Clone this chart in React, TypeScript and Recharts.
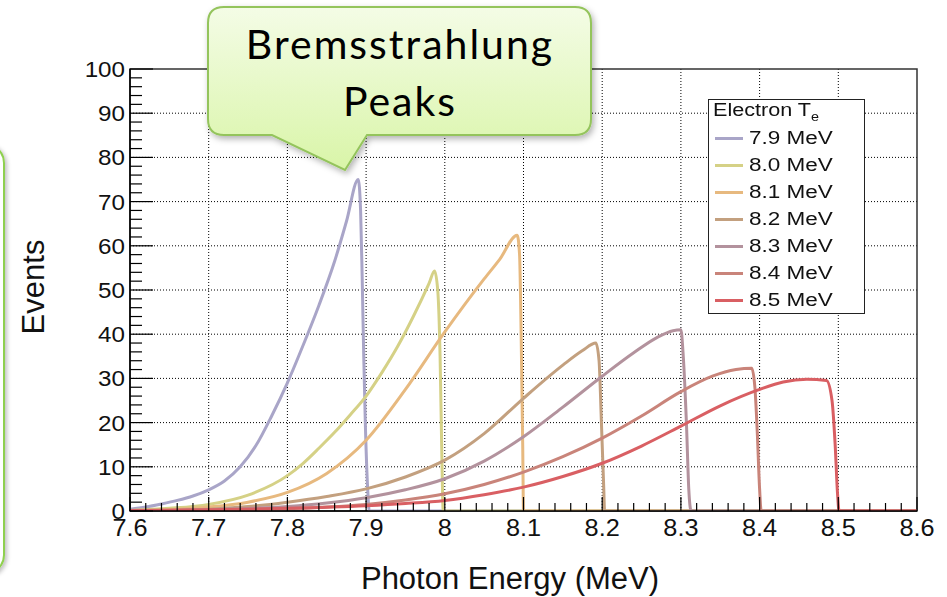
import { CartesianGrid, Line, LineChart, ReferenceArea, XAxis, YAxis } from "recharts";

// photon energy (MeV) vs events, one curve per electron energy
const te79 = [
  [7.6, 0.4], [7.62, 0.9], [7.64, 1.6], [7.66, 2.4], [7.68, 3.4], [7.7, 4.8], [7.72, 6.8],
  [7.74, 10], [7.76, 14.8], [7.78, 21.5], [7.8, 29], [7.82, 37.5], [7.84, 46.5], [7.86, 56.5],
  [7.875, 65.5], [7.89, 75], [7.893, 68], [7.895, 53], [7.897, 35], [7.899, 20], [7.902, 5],
  [7.904, 0], [8.6, 0],
];
const te80 = [
  [7.6, 0.1], [7.65, 0.6], [7.7, 1.5], [7.75, 3.6], [7.8, 8], [7.82, 10.8], [7.84, 14.2],
  [7.86, 17.8], [7.88, 21.8], [7.9, 26], [7.92, 31.3], [7.94, 37.2], [7.96, 44], [7.98, 51.5],
  [7.987, 54.3], [7.991, 50], [7.994, 35], [7.996, 15], [7.998, 0], [8.6, 0],
];
const te81 = [
  [7.6, 0], [7.65, 0.3], [7.7, 0.9], [7.75, 2], [7.8, 4.2], [7.85, 8.5], [7.9, 16],
  [7.95, 27.5], [8.0, 40.5], [8.05, 52.5], [8.07, 57], [8.092, 62.4],
  [8.095, 58], [8.097, 40], [8.099, 15], [8.1, 0], [8.6, 0],
];
const te82 = [
  [7.6, 0], [7.7, 0.4], [7.75, 1], [7.8, 2], [7.85, 3.3], [7.9, 5], [7.95, 7.7], [8.0, 11.5],
  [8.05, 17.5], [8.1, 25.5], [8.15, 33], [8.175, 36.3], [8.192, 38], [8.196, 34],
  [8.199, 20], [8.202, 5], [8.203, 0], [8.6, 0],
];
const te83 = [
  [7.6, 0], [7.7, 0.3], [7.8, 1], [7.85, 1.8], [7.9, 3], [7.95, 4.8], [8.0, 7.3],
  [8.05, 11.3], [8.1, 16.8], [8.15, 23.5], [8.2, 30.5], [8.24, 35.8], [8.27, 39.3],
  [8.29, 40.8], [8.3, 41], [8.303, 35], [8.307, 20], [8.31, 5], [8.313, 0], [8.6, 0],
];
const te84 = [
  [7.6, 0], [7.7, 0.2], [7.8, 0.5], [7.85, 0.9], [7.9, 1.5], [7.95, 2.5], [8.0, 3.9],
  [8.05, 6], [8.1, 8.8], [8.15, 12.3], [8.2, 16.5], [8.25, 21.5], [8.3, 27], [8.34, 30.5],
  [8.37, 32], [8.39, 32.3], [8.394, 28], [8.397, 18], [8.4, 5], [8.402, 0], [8.6, 0],
];
const te85 = [
  [7.6, 0.1], [7.7, 0.3], [7.8, 0.6], [7.9, 1.2], [7.95, 1.7], [8.0, 2.4], [8.05, 3.7],
  [8.1, 5.4], [8.15, 7.8], [8.2, 10.8], [8.25, 14.7], [8.3, 19.2], [8.35, 23.8], [8.4, 27.5],
  [8.43, 29.2], [8.46, 29.8], [8.485, 29.5], [8.492, 25], [8.496, 15], [8.499, 4],
  [8.501, 0], [8.6, 0],
];

const seriesData = [te79, te80, te81, te82, te83, te84, te85];
const seriesNames = ["7.9 MeV", "8.0 MeV", "8.1 MeV", "8.2 MeV", "8.3 MeV", "8.4 MeV", "8.5 MeV"];
const seriesColors = ["#a9a5c8", "#d5d186", "#e7b97f", "#c3a07f", "#b3929d", "#c9847a", "#d95f63"];

const xMajor = [7.6, 7.7, 7.8, 7.9, 8, 8.1, 8.2, 8.3, 8.4, 8.5, 8.6];
const yMajor = [0, 10, 20, 30, 40, 50, 60, 70, 80, 90, 100];

const xTicks: number[] = [];
for (let i = 0; i <= 50; i++) xTicks.push(Math.round((7.6 + i * 0.02) * 100) / 100);
const yTicks: number[] = [];
for (let i = 0; i <= 50; i++) yTicks.push(i * 2);

const font = "'Liberation Sans', Arial, sans-serif";

const isMajorX = (v: number) => Math.abs(v * 10 - Math.round(v * 10)) < 1e-6;
const isMajorY = (v: number) => v % 10 === 0;

function XTick(props: any) {
  const { x, y, payload } = props;
  const v = payload.value;
  const major = isMajorX(v);
  return (
    <g>
      <line x1={x} x2={x} y1={y} y2={y - (major ? 14 : 8)} stroke="#000" strokeWidth={1.2} />
      {major && (
        <text
          transform={`translate(${x}, ${y + 25}) scale(1.1, 1)`}
          textAnchor="middle"
          fontSize={23}
          fontFamily={font}
          fill="#111"
        >
          {String(Math.round(v * 10) / 10)}
        </text>
      )}
    </g>
  );
}

function YTick(props: any) {
  const { x, y, payload } = props;
  const v = payload.value;
  const major = isMajorY(v);
  return (
    <g>
      <line x1={x} x2={x + (major ? 23 : 12)} y1={y} y2={y} stroke="#000" strokeWidth={1.2} />
      {major && (
        <text
          transform={`translate(${x - 5}, ${y + 8}) scale(1.1, 1)`}
          textAnchor="end"
          fontSize={22}
          fontFamily={font}
          fill="#111"
        >
          {v}
        </text>
      )}
    </g>
  );
}

function Legend() {
  return (
    <div
      style={{
        position: "absolute",
        left: 708,
        top: 99,
        width: 155,
        height: 213,
        border: "1.5px solid #222",
        background: "#fff",
        fontFamily: font,
        fontSize: 18,
        color: "#111",
      }}
    >
      <div
        style={{
          position: "absolute",
          left: 4,
          top: 0,
          whiteSpace: "nowrap",
          transform: "scaleX(1.2)",
          transformOrigin: "0 0",
        }}
      >
        Electron T<sub style={{ fontSize: 12, verticalAlign: -5 }}>e</sub>
      </div>
      {seriesNames.map((name, i) => (
        <div
          key={name}
          style={{ position: "absolute", left: 6, top: 28 + i * 27, display: "flex", alignItems: "center" }}
        >
          <div style={{ width: 28, height: 3, background: seriesColors[i], marginRight: 6 }} />
          <span
            style={{ whiteSpace: "nowrap", display: "inline-block", transform: "scaleX(1.25)", transformOrigin: "0 50%" }}
          >
            {name}
          </span>
        </div>
      ))}
    </div>
  );
}

function Callout() {
  return (
    <svg
      width={420}
      height={190}
      style={{ position: "absolute", left: 190, top: 0, overflow: "visible" }}
    >
      <defs>
        <linearGradient id="callFill" x1="0" y1="0" x2="0" y2="1">
          <stop offset="0" stopColor="#f4fce6" />
          <stop offset="1" stopColor="#d9f5a8" />
        </linearGradient>
        <filter id="callShadow" x="-10%" y="-10%" width="130%" height="140%">
          <feDropShadow dx="2" dy="3" stdDeviation="3" floodColor="#000" floodOpacity="0.3" />
        </filter>
      </defs>
      <path
        d="M 34 7 H 385 Q 401 7 401 23 V 119 Q 401 135 385 135 H 177 L 155 170 L 82 135 H 34 Q 18 135 18 119 V 23 Q 18 7 34 7 Z"
        fill="url(#callFill)"
        stroke="#94c45c"
        strokeWidth={2}
        filter="url(#callShadow)"
      />
      <text
        x={210}
        y={59}
        textAnchor="middle"
        fontSize={41}
        letterSpacing={2}
        fontFamily="Lato, 'Open Sans', sans-serif"
        fill="#000"
      >
        Bremsstrahlung
      </text>
      <text
        x={210}
        y={116}
        textAnchor="middle"
        fontSize={41}
        letterSpacing={2}
        fontFamily="Lato, 'Open Sans', sans-serif"
        fill="#000"
      >
        Peaks
      </text>
    </svg>
  );
}

export default function App() {
  return (
    <div
      style={{
        position: "absolute",
        left: 0,
        top: 0,
        width: 947,
        height: 597,
        background: "#fff",
        overflow: "hidden",
      }}
    >
      <div
        style={{
          position: "absolute",
          left: -40,
          top: 143,
          width: 41,
          height: 428,
          border: "2.5px solid #8fd04f",
          borderRadius: 20,
          boxShadow: "2px 2px 4px rgba(0,0,0,0.25)",
        }}
      />
      <LineChart
        width={947}
        height={597}
        margin={{ top: 69, right: 30, left: 70, bottom: 46 }}
        style={{ position: "absolute", left: 0, top: 0 }}
      >
        <CartesianGrid
          stroke="#000"
          strokeDasharray="1 2"
          strokeWidth={1}
          horizontalValues={yMajor.slice(1, -1)}
          verticalValues={xMajor.slice(1, -1)}
        />
        <XAxis
          dataKey="x"
          type="number"
          domain={[7.6, 8.6]}
          ticks={xTicks}
          interval={0}
          allowDataOverflow
          height={40}
          tickSize={0}
          tickMargin={0}
          tickLine={false}
          axisLine={{ stroke: "#000", strokeWidth: 1.5 }}
          tick={<XTick />}
        />
        <YAxis
          type="number"
          domain={[0, 100]}
          ticks={yTicks}
          interval={0}
          allowDataOverflow
          width={60}
          tickSize={0}
          tickMargin={0}
          tickLine={false}
          axisLine={{ stroke: "#000", strokeWidth: 1.5 }}
          tick={<YTick />}
        />
        <ReferenceArea x1={7.6} x2={8.6} y1={0} y2={100} fill="none" stroke="#333" strokeWidth={1.5} />
        {seriesData.map((pts, i) => (
          <Line
            key={seriesNames[i]}
            data={pts.map(([x, y]) => ({ x, y }))}
            dataKey="y"
            type="monotone"
            stroke={seriesColors[i]}
            strokeWidth={3}
            dot={false}
            activeDot={false}
            isAnimationActive={false}
          />
        ))}
      </LineChart>
      <Legend />
      <Callout />
      <div
        style={{
          position: "absolute",
          left: 0,
          top: 0,
          transform: "translate(34px, 287px) rotate(-90deg) translate(-50%, -50%)",
          transformOrigin: "0 0",
          fontFamily: font,
          fontSize: 31,
          color: "#111",
          whiteSpace: "nowrap",
        }}
      >
        Events
      </div>
      <div
        style={{
          position: "absolute",
          left: 510,
          top: 561,
          transform: "translateX(-50%)",
          fontFamily: font,
          fontSize: 31,
          color: "#111",
          whiteSpace: "nowrap",
        }}
      >
        Photon Energy (MeV)
      </div>
    </div>
  );
}
